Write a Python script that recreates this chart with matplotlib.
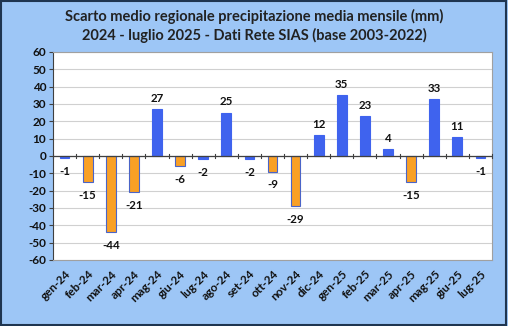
import matplotlib
matplotlib.use("Agg")
import matplotlib.pyplot as plt
from matplotlib.patches import Rectangle
import numpy as np

months = ["gen-24", "feb-24", "mar-24", "apr-24", "mag-24", "giu-24", "lug-24",
          "ago-24", "set-24", "ott-24", "nov-24", "dic-24", "gen-25", "feb-25",
          "mar-25", "apr-25", "mag-25", "giu-25", "lug-25"]
values = [-1, -15, -44, -21, 27, -6, -2, 25, -2, -9, -29, 12, 35, 23, 4, -15, 33, 11, -1]
is_orange = [False, True, True, True, False, True, False, False, False, True, True,
             False, False, False, False, True, False, False, False]
yticks = list(range(-60, 61, 10))

BLUE = "#3F63EE"
ORANGE = "#F9A025"
BG = "#9DC6F6"

plt.rcParams['font.family'] = ['Lato', 'DejaVu Sans']
fig = plt.figure(figsize=(5.08, 3.26), dpi=100, facecolor=BG)
fig.patches.append(Rectangle((0.002, 0.003), 0.994, 0.994, transform=fig.transFigure,
                             fill=False, edgecolor="#1F3550", linewidth=1.5))
ax = fig.add_axes([53/508, 1-260/326, (492-53)/508, (260-52)/326])
ax.set_facecolor("white")

x = np.arange(len(months))
colors = [ORANGE if o else BLUE for o in is_orange]
edges = ["#4A64C8" if o else BLUE for o in is_orange]
ax.bar(x, values, width=0.42, color=colors, edgecolor=edges, linewidth=0.8, zorder=3)

for xi, v in zip(x, values):
    if v >= 0:
        ax.text(xi, v + 3, str(v), ha="center", va="bottom", fontsize=8.3, fontweight="bold", color="#111111")
    else:
        ax.text(xi, v - 4.5, str(v), ha="center", va="top", fontsize=8.3, fontweight="bold", color="#111111")

ax.set_ylim(-60, 60)
ax.set_xlim(-0.5, len(months) - 0.5)
ax.set_yticks(yticks)
ax.set_yticklabels([str(t) for t in yticks], fontsize=8.5, fontweight="bold", color="#111111")
ax.grid(axis="y", color="#D0D0D0", linewidth=0.8, zorder=0)
ax.set_xticks(x)
ax.set_xticklabels(months, rotation=45, ha="right", rotation_mode="anchor", fontsize=8.5,
                   fontweight="bold", color="#111111")
ax.tick_params(axis="x", length=0, pad=6)
ax.tick_params(axis="y", length=3, width=0.8, color="#404040", pad=2)
for s in ["top", "right", "bottom"]:
    ax.spines[s].set_color("#A0A0A0")
    ax.spines[s].set_linewidth(0.8)
ax.spines["left"].set_color("#404040")
ax.axhline(0, color="#404040", linewidth=0.9, zorder=4)
for b in np.arange(-0.5, len(months), 1.0):
    ax.plot([b, b], [-1.3, 1.3], color="#404040", linewidth=0.8, zorder=4, clip_on=False)

fig.text(0.5, 1-26/326, "Scarto medio regionale precipitazione media mensile (mm)\n2024 - luglio 2025 - Dati Rete SIAS (base 2003-2022)",
         ha="center", va="center", fontsize=10.5, fontweight="bold", color="#222222", linespacing=1.4)

fig.savefig("out.png", dpi=100, facecolor=BG)
